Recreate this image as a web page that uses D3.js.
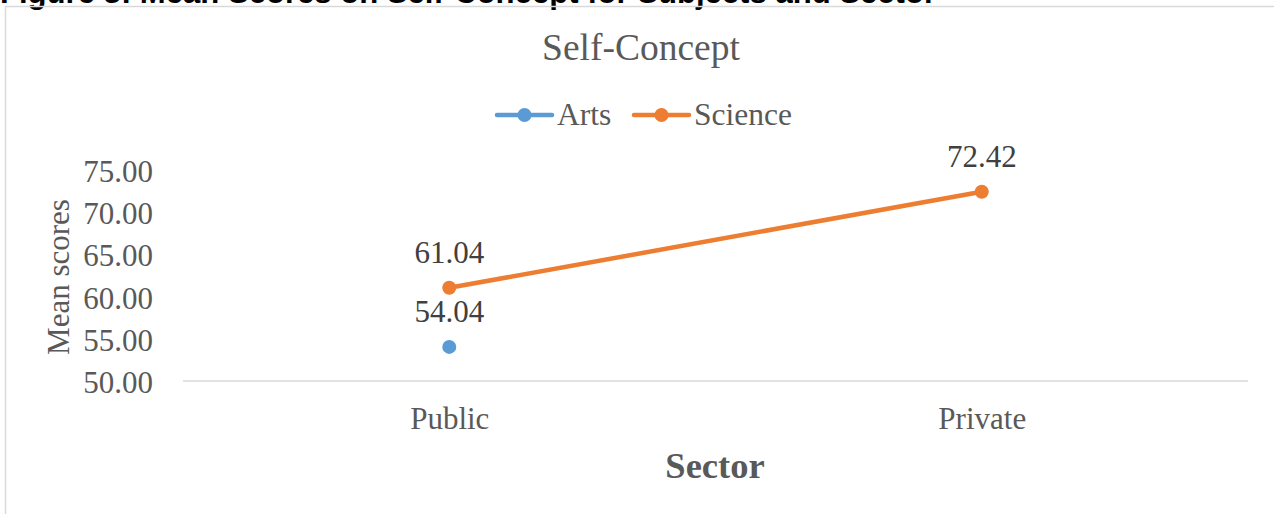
<!DOCTYPE html>
<html>
<head>
<meta charset="utf-8">
<script src="https://cdn.jsdelivr.net/npm/d3@7/dist/d3.min.js"></script>
<style>
  html, body { margin: 0; padding: 0; background: #fff; overflow: hidden; }
  svg { display: block; }
</style>
</head>
<body>
<svg id="chart" width="1274" height="514"></svg>
<script>
const categories = ["Public", "Private"];
const seriesNames = ["Arts", "Science"];
const artsValues = [54.04, null];
const scienceValues = [61.04, 72.42];
const yTicks = [50, 55, 60, 65, 70, 75];
const headerText = "Figure 3: Mean Scores on Self-Concept for Subjects and Sector";
const chartTitle = "Self-Concept";
const xTitle = "Sector";
const yTitle = "Mean scores";

const colors = { Arts: "#5B9BD5", Science: "#ED7D31" };
const series = [
  { name: "Arts", values: artsValues },
  { name: "Science", values: scienceValues }
];

const svg = d3.select("#chart");
const serif = "'Liberation Serif', 'Times New Roman', serif";

// header (clipped at top, as in the reference)
svg.append("text")
  .attr("x", 0).attr("y", 3)
  .attr("font-family", "'Liberation Sans', Arial, sans-serif")
  .attr("font-weight", "bold")
  .attr("font-size", 31)
  .attr("textLength", 936)
  .attr("lengthAdjust", "spacingAndGlyphs")
  .attr("fill", "#000")
  .text(headerText);

// chart border
svg.append("rect")
  .attr("x", 5.5).attr("y", 6.5)
  .attr("width", 1290).attr("height", 530)
  .attr("fill", "none")
  .attr("stroke", "#d9d9d9")
  .attr("stroke-width", 1.5);

const plot = { left: 183, right: 1248, top: 170, bottom: 381 };

const x = d3.scalePoint().domain(categories).range([plot.left, plot.right]).padding(0.5);
const y = d3.scaleLinear().domain([50, 75]).range([plot.bottom, plot.top]);

// title
svg.append("text")
  .attr("x", 641).attr("y", 60)
  .attr("text-anchor", "middle")
  .attr("font-family", serif)
  .attr("font-size", 37.5)
  .attr("fill", "#595959")
  .text(chartTitle);

// legend
const legendItems = [
  { name: "Arts", x0: 497, tx: 557 },
  { name: "Science", x0: 634, tx: 694 }
];
const legend = svg.append("g");
legendItems.forEach(it => {
  legend.append("line")
    .attr("x1", it.x0).attr("x2", it.x0 + 55)
    .attr("y1", 115).attr("y2", 115)
    .attr("stroke", colors[it.name]).attr("stroke-width", 4.5)
    .attr("stroke-linecap", "round");
  legend.append("circle")
    .attr("cx", it.x0 + 27.5).attr("cy", 115).attr("r", 7)
    .attr("fill", colors[it.name]);
  legend.append("text")
    .attr("x", it.tx).attr("y", 125)
    .attr("font-family", serif).attr("font-size", 31.5)
    .attr("fill", "#595959")
    .text(it.name);
});

// y axis labels
const yAxis = d3.axisLeft(y).tickValues(yTicks).tickFormat(d3.format(".2f")).tickSize(0).tickPadding(30);
const yg = svg.append("g").attr("transform", `translate(${plot.left},1)`).call(yAxis);
yg.select(".domain").remove();
yg.selectAll("text")
  .attr("font-family", serif).attr("font-size", 31)
  .attr("fill", "#595959").attr("dy", "0.34em");

// x axis
const xAxis = d3.axisBottom(x).tickSize(0).tickPadding(26);
const xg = svg.append("g").attr("transform", `translate(0,${plot.bottom})`).call(xAxis);
xg.select(".domain").remove();
xg.append("line")
  .attr("x1", plot.left).attr("x2", plot.right)
  .attr("y1", 0).attr("y2", 0)
  .attr("stroke", "#d9d9d9").attr("stroke-width", 1.5);
xg.selectAll("text")
  .attr("font-family", serif).attr("font-size", 31)
  .attr("fill", "#595959").attr("dy", "0.71em");

// axis titles
svg.append("text")
  .attr("x", 715).attr("y", 478)
  .attr("text-anchor", "middle")
  .attr("font-family", serif).attr("font-weight", "bold").attr("font-size", 36.5)
  .attr("fill", "#595959")
  .text(xTitle);

svg.append("text")
  .attr("transform", "translate(69,277) rotate(-90)")
  .attr("text-anchor", "middle")
  .attr("font-family", serif).attr("font-size", 31)
  .attr("fill", "#595959")
  .text(yTitle);

// series
const line = d3.line()
  .defined(d => d.v != null)
  .x(d => x(d.c)).y(d => y(d.v));

series.forEach(s => {
  const pts = categories.map((c, i) => ({ c, v: s.values[i] }));
  svg.append("path")
    .datum(pts)
    .attr("d", line)
    .attr("fill", "none")
    .attr("stroke", colors[s.name])
    .attr("stroke-width", 4.5)
    .attr("stroke-linecap", "round");
  const valid = pts.filter(d => d.v != null);
  svg.selectAll(null).data(valid).enter().append("circle")
    .attr("cx", d => x(d.c)).attr("cy", d => y(d.v)).attr("r", 7)
    .attr("fill", colors[s.name]);
  svg.selectAll(null).data(valid).enter().append("text")
    .attr("x", d => x(d.c)).attr("y", d => y(d.v) - 25)
    .attr("text-anchor", "middle")
    .attr("font-family", serif).attr("font-size", 31)
    .attr("fill", "#404040")
    .text(d => d3.format(".2f")(d.v));
});
</script>
</body>
</html>
